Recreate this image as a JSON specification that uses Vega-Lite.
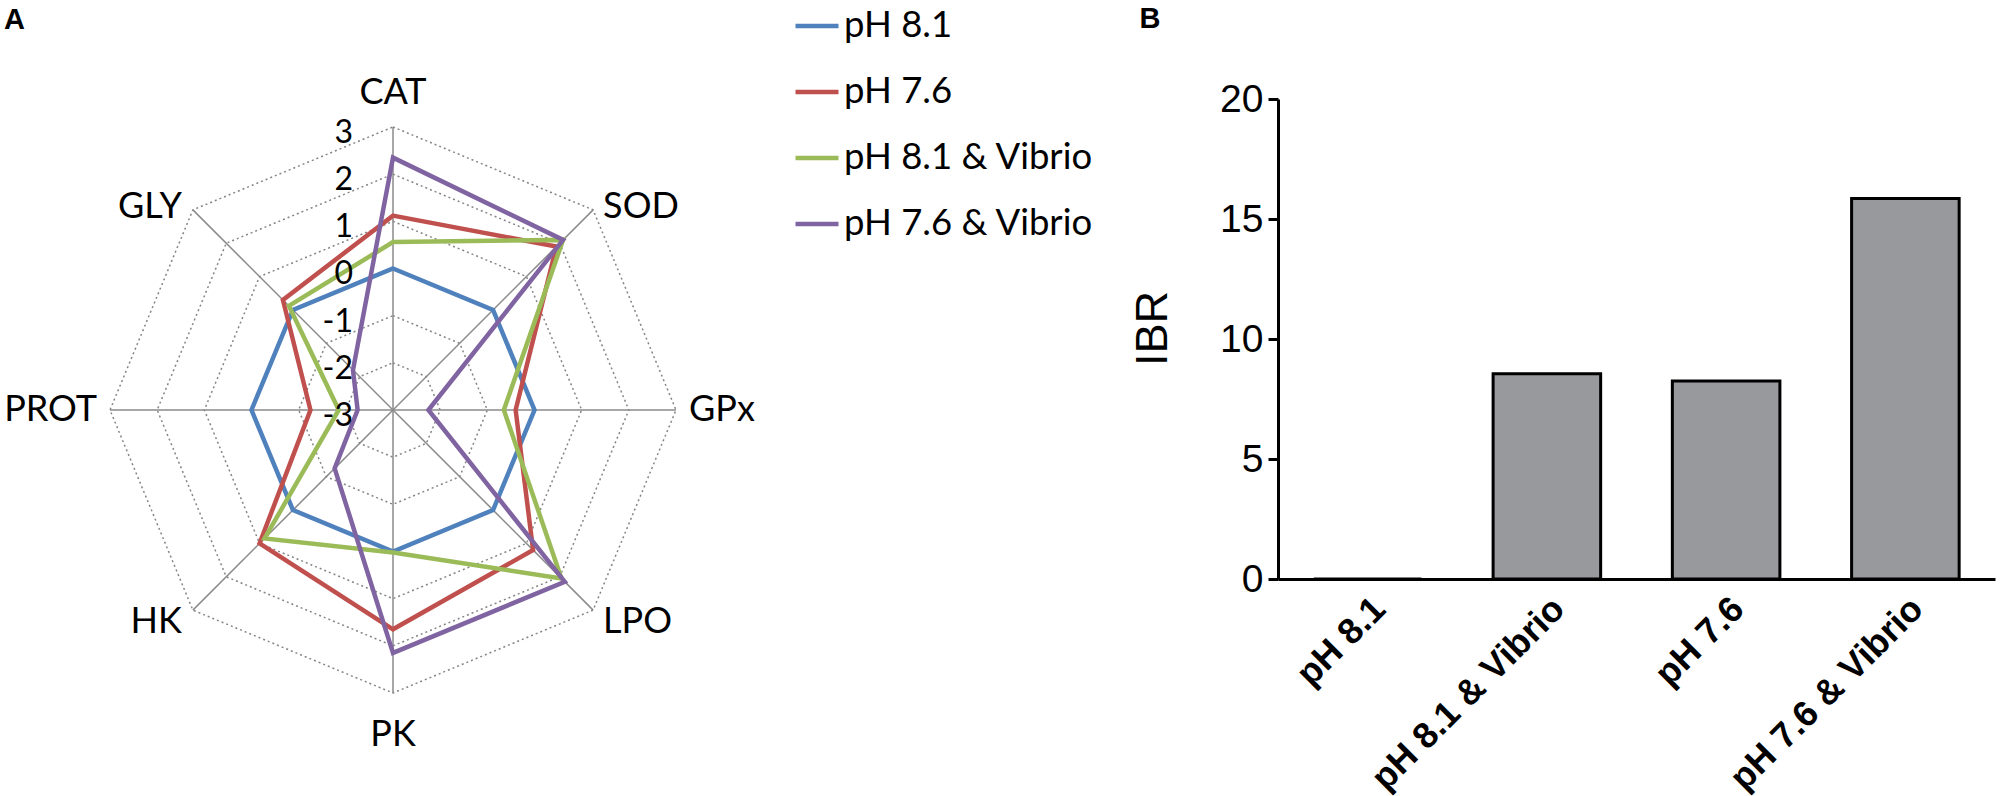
{
  "$schema": "https://vega.github.io/schema/vega-lite/v6.json",
  "background": "white",
  "padding": {"left": 4, "top": 2, "right": 5, "bottom": 0},
  "bounds": "flush",
  "spacing": 496,
  "config": {
    "view": {"stroke": null},
    "title": {"font": "Liberation Sans", "fontSize": 29, "fontWeight": "bold", "color": "black", "anchor": "start"}
  },
  "datasets": {
    "radar": [
      {"group": "pH 8.1", "axis": "CAT", "value": 0},
      {"group": "pH 8.1", "axis": "SOD", "value": 0},
      {"group": "pH 8.1", "axis": "GPx", "value": 0},
      {"group": "pH 8.1", "axis": "LPO", "value": 0},
      {"group": "pH 8.1", "axis": "PK", "value": 0},
      {"group": "pH 8.1", "axis": "HK", "value": 0},
      {"group": "pH 8.1", "axis": "PROT", "value": 0},
      {"group": "pH 8.1", "axis": "GLY", "value": 0},
      {"group": "pH 7.6", "axis": "CAT", "value": 1.12},
      {"group": "pH 7.6", "axis": "SOD", "value": 1.9},
      {"group": "pH 7.6", "axis": "GPx", "value": -0.4},
      {"group": "pH 7.6", "axis": "LPO", "value": 1.2},
      {"group": "pH 7.6", "axis": "PK", "value": 1.65},
      {"group": "pH 7.6", "axis": "HK", "value": 1.0},
      {"group": "pH 7.6", "axis": "PROT", "value": -1.25},
      {"group": "pH 7.6", "axis": "GLY", "value": 0.3},
      {"group": "pH 8.1 & Vibrio", "axis": "CAT", "value": 0.56},
      {"group": "pH 8.1 & Vibrio", "axis": "SOD", "value": 2.1},
      {"group": "pH 8.1 & Vibrio", "axis": "GPx", "value": -0.65},
      {"group": "pH 8.1 & Vibrio", "axis": "LPO", "value": 2.05},
      {"group": "pH 8.1 & Vibrio", "axis": "PK", "value": 0.02},
      {"group": "pH 8.1 & Vibrio", "axis": "HK", "value": 0.85},
      {"group": "pH 8.1 & Vibrio", "axis": "PROT", "value": -1.85},
      {"group": "pH 8.1 & Vibrio", "axis": "GLY", "value": 0.12},
      {"group": "pH 7.6 & Vibrio", "axis": "CAT", "value": 2.35},
      {"group": "pH 7.6 & Vibrio", "axis": "SOD", "value": 2.1},
      {"group": "pH 7.6 & Vibrio", "axis": "GPx", "value": -2.25},
      {"group": "pH 7.6 & Vibrio", "axis": "LPO", "value": 2.15},
      {"group": "pH 7.6 & Vibrio", "axis": "PK", "value": 2.15},
      {"group": "pH 7.6 & Vibrio", "axis": "HK", "value": -1.25},
      {"group": "pH 7.6 & Vibrio", "axis": "PROT", "value": -2.25},
      {"group": "pH 7.6 & Vibrio", "axis": "GLY", "value": -1.8}
    ],
    "spokes": [
      {"axis": "CAT", "order": 0, "ring": [-2, -1, 0, 1, 2, 3]},
      {"axis": "SOD", "order": 1, "ring": [-2, -1, 0, 1, 2, 3]},
      {"axis": "GPx", "order": 2, "ring": [-2, -1, 0, 1, 2, 3]},
      {"axis": "LPO", "order": 3, "ring": [-2, -1, 0, 1, 2, 3]},
      {"axis": "PK", "order": 4, "ring": [-2, -1, 0, 1, 2, 3]},
      {"axis": "HK", "order": 5, "ring": [-2, -1, 0, 1, 2, 3]},
      {"axis": "PROT", "order": 6, "ring": [-2, -1, 0, 1, 2, 3]},
      {"axis": "GLY", "order": 7, "ring": [-2, -1, 0, 1, 2, 3]}
    ],
    "levels": [
      {"level": -3}, {"level": -2}, {"level": -1}, {"level": 0},
      {"level": 1}, {"level": 2}, {"level": 3}
    ],
    "ibr": [
      {"group": "pH 8.1", "IBR": 0},
      {"group": "pH 8.1 & Vibrio", "IBR": 8.55},
      {"group": "pH 7.6", "IBR": 8.25},
      {"group": "pH 7.6 & Vibrio", "IBR": 15.85}
    ]
  },
  "hconcat": [
    {
      "width": 778,
      "height": 480,
      "title": {"text": "A", "offset": 40},
      "encoding": {
        "x": {"field": "x", "type": "quantitative", "scale": {"domain": [-8.247, 8.247], "nice": false, "zero": false}, "axis": null},
        "y": {"field": "y", "type": "quantitative", "scale": {"domain": [-3.583, 6.593], "nice": false, "zero": false}, "axis": null}
      },
      "layer": [
        {
          "data": {"name": "spokes"},
          "transform": [
            {"flatten": ["ring"]},
            {"calculate": "(datum.ring + 3) * sin(datum.order * PI / 4)", "as": "x"},
            {"calculate": "(datum.ring + 3) * cos(datum.order * PI / 4)", "as": "y"}
          ],
          "mark": {"type": "line", "interpolate": "linear-closed", "stroke": "#858585", "strokeWidth": 1.5, "strokeDash": [2, 3]},
          "encoding": {
            "detail": {"field": "ring", "type": "nominal"},
            "order": {"field": "order", "type": "quantitative"}
          }
        },
        {
          "data": {"name": "spokes"},
          "transform": [
            {"calculate": "6 * sin(datum.order * PI / 4)", "as": "x"},
            {"calculate": "6 * cos(datum.order * PI / 4)", "as": "y"}
          ],
          "layer": [
            {
              "mark": {"type": "rule", "stroke": "#8a8a8a", "strokeWidth": 1.5},
              "encoding": {"x2": {"datum": 0}, "y2": {"datum": 0}}
            },
            {
              "transform": [{"filter": "datum.axis === 'CAT'"}],
              "mark": {"type": "text", "align": "center", "baseline": "middle", "dy": -34, "font": "Lato", "fontSize": 36, "color": "black"},
              "encoding": {"text": {"field": "axis"}}
            },
            {
              "transform": [{"filter": "datum.axis === 'PK'"}],
              "mark": {"type": "text", "align": "center", "baseline": "middle", "dy": 42, "font": "Lato", "fontSize": 36, "color": "black"},
              "encoding": {"text": {"field": "axis"}}
            },
            {
              "transform": [{"filter": "datum.axis === 'SOD'"}],
              "mark": {"type": "text", "align": "left", "baseline": "middle", "dx": 10, "dy": -3, "font": "Lato", "fontSize": 36, "color": "black"},
              "encoding": {"text": {"field": "axis"}}
            },
            {
              "transform": [{"filter": "datum.axis === 'GPx'"}],
              "mark": {"type": "text", "align": "left", "baseline": "middle", "dx": 13, "font": "Lato", "fontSize": 36, "color": "black"},
              "encoding": {"text": {"field": "axis"}}
            },
            {
              "transform": [{"filter": "datum.axis === 'LPO'"}],
              "mark": {"type": "text", "align": "left", "baseline": "middle", "dx": 10, "dy": 12, "font": "Lato", "fontSize": 36, "color": "black"},
              "encoding": {"text": {"field": "axis"}}
            },
            {
              "transform": [{"filter": "datum.axis === 'HK'"}],
              "mark": {"type": "text", "align": "right", "baseline": "middle", "dx": -11, "dy": 12, "font": "Lato", "fontSize": 36, "color": "black"},
              "encoding": {"text": {"field": "axis"}}
            },
            {
              "transform": [{"filter": "datum.axis === 'PROT'"}],
              "mark": {"type": "text", "align": "right", "baseline": "middle", "dx": -13, "font": "Lato", "fontSize": 36, "color": "black"},
              "encoding": {"text": {"field": "axis"}}
            },
            {
              "transform": [{"filter": "datum.axis === 'GLY'"}],
              "mark": {"type": "text", "align": "right", "baseline": "middle", "dx": -11, "dy": -3, "font": "Lato", "fontSize": 36, "color": "black"},
              "encoding": {"text": {"field": "axis"}}
            }
          ]
        },
        {
          "data": {"name": "radar"},
          "transform": [
            {"lookup": "axis", "from": {"data": {"name": "spokes"}, "key": "axis", "fields": ["order"]}},
            {"calculate": "(datum.value + 3) * sin(datum.order * PI / 4)", "as": "x"},
            {"calculate": "(datum.value + 3) * cos(datum.order * PI / 4)", "as": "y"}
          ],
          "mark": {"type": "line", "interpolate": "linear-closed", "strokeWidth": 4.5},
          "encoding": {
            "order": {"field": "order", "type": "quantitative"},
            "color": {
              "field": "group",
              "type": "nominal",
              "scale": {
                "domain": ["pH 8.1", "pH 7.6", "pH 8.1 & Vibrio", "pH 7.6 & Vibrio"],
                "range": ["#4F81BD", "#C0504D", "#9BBB59", "#8064A2"]
              },
              "legend": {
                "orient": "none",
                "legendX": 789,
                "legendY": -97,
                "title": null,
                "padding": 0,
                "symbolType": "stroke",
                "symbolSize": 1849,
                "symbolStrokeWidth": 4.5,
                "labelFont": "Lato",
                "labelFontSize": 36.5,
                "labelColor": "black",
                "labelOffset": 3,
                "labelLimit": 400,
                "rowPadding": 23
              }
            }
          }
        },
        {
          "data": {"name": "levels"},
          "transform": [
            {"calculate": "0", "as": "x"},
            {"calculate": "datum.level + 3", "as": "y"}
          ],
          "mark": {"type": "text", "align": "right", "baseline": "middle", "dx": -40, "dy": 6, "font": "Lato", "fontSize": 32, "color": "black"},
          "encoding": {"text": {"field": "level", "type": "nominal"}}
        }
      ]
    },
    {
      "width": 717,
      "height": 480,
      "title": {"text": "B", "frame": "bounds", "offset": 46, "dx": 9},
      "data": {"name": "ibr"},
      "mark": {"type": "bar", "fill": "#98999d", "stroke": "black", "strokeWidth": 3},
      "encoding": {
        "x": {
          "field": "group",
          "type": "nominal",
          "sort": null,
          "scale": {"paddingInner": 0.4, "paddingOuter": 0.2},
          "axis": {
            "title": null,
            "labelAngle": -45,
            "labelFont": "Liberation Sans",
            "labelFontSize": 36,
            "labelFontWeight": "bold",
            "labelColor": "black",
            "labelPadding": 12,
            "labelLimit": 400,
            "ticks": false,
            "domainColor": "black",
            "domainWidth": 3
          }
        },
        "y": {
          "field": "IBR",
          "type": "quantitative",
          "scale": {"domain": [0, 20], "nice": false},
          "axis": {
            "values": [0, 5, 10, 15, 20],
            "grid": false,
            "title": "IBR",
            "titleFont": "Liberation Sans",
            "titleFontSize": 45,
            "titleFontWeight": "normal",
            "titleColor": "black",
            "titlePadding": 44,
            "titleY": 229,
            "labelFont": "Liberation Sans",
            "labelFontSize": 39,
            "labelColor": "black",
            "labelPadding": 5,
            "labelFlush": false,
            "tickSize": 10,
            "tickWidth": 3,
            "tickColor": "black",
            "domainColor": "black",
            "domainWidth": 3
          }
        }
      }
    }
  ]
}
